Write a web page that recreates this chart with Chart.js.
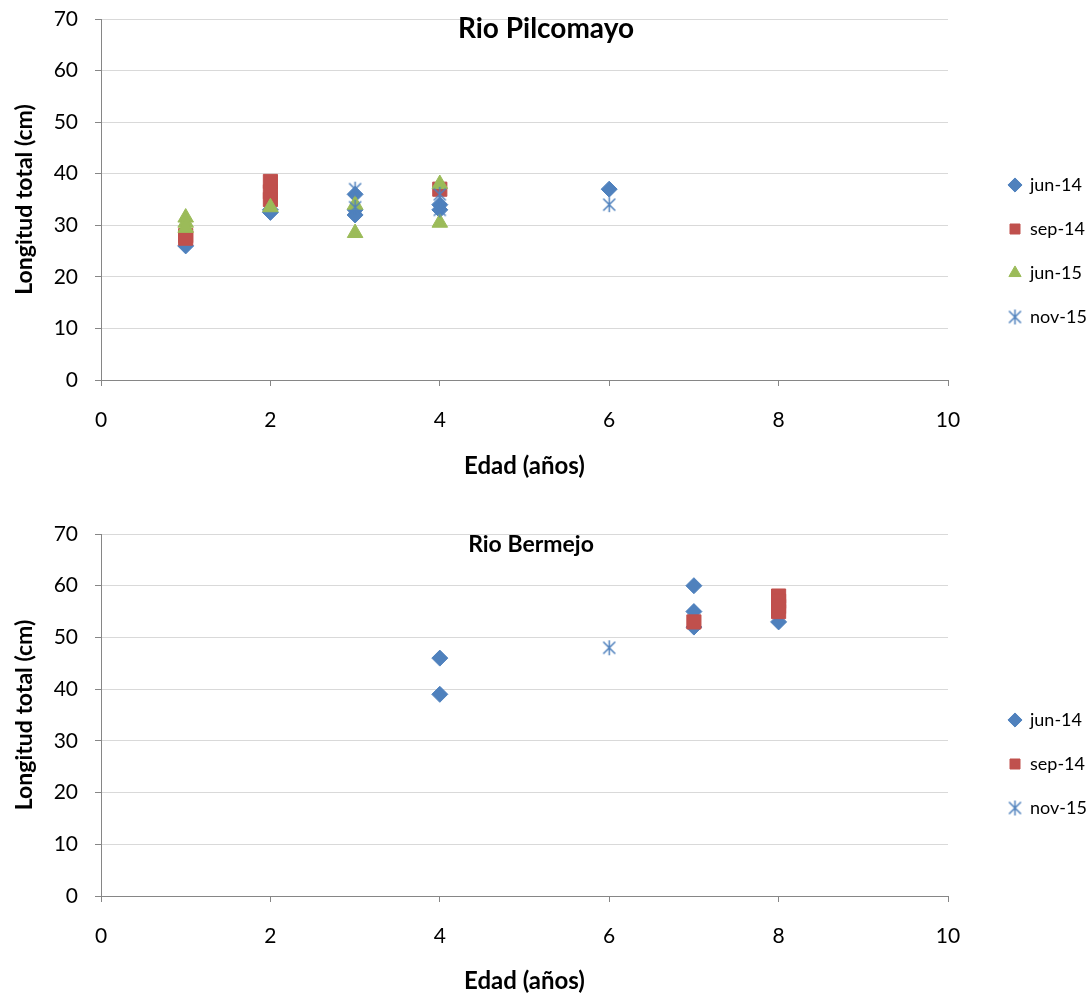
<!DOCTYPE html>
<html lang="es">
<head>
<meta charset="UTF-8">
<title>Longitud total por edad</title>
<script src="https://cdn.jsdelivr.net/npm/chart.js"></script>
<style>
  html, body { margin: 0; padding: 0; background: #fff; }
  .chart-box { position: relative; width: 1092px; height: 498px; }
</style>
</head>
<body>
<div class="chart-box"><canvas id="pilcomayo"></canvas></div>
<div class="chart-box"><canvas id="bermejo"></canvas></div>

<script>
// datos: [edad, longitud]
const seriesNames = ['jun-14', 'sep-14', 'jun-15', 'nov-15'];

const pilJun14 = [[1, 26], [2, 32.5], [2, 33], [3, 36], [3, 33], [3, 32], [4, 34], [4, 33], [6, 37]];
const pilSep14 = [[1, 28], [1, 27.5], [2, 38.5], [2, 36.5], [2, 35], [4, 37]];
const pilJun15 = [[1, 31.5], [1, 30.5], [1, 29.5], [2, 33.5], [3, 34], [3, 28.5], [4, 38], [4, 30.5]];
const pilNov15 = [[3, 37], [3, 33.5], [4, 36], [4, 33], [6, 34]];

const berJun14 = [[4, 46], [4, 39], [7, 60], [7, 55], [7, 52], [8, 53]];
const berSep14 = [[7, 53], [8, 58], [8, 57], [8, 56], [8, 55]];
const berNov15 = [[6, 48]];

const xTicks = [0, 2, 4, 6, 8, 10];
const yTicks = [0, 10, 20, 30, 40, 50, 60, 70];

const AZUL = '#4F81BD', ROJO = '#C0504D', VERDE = '#9BBB59';
const FONT = 'Lato, "DejaVu Sans", sans-serif';

// marcador asterisco de Excel (X con linea vertical)
function asterisco(size) {
    const c = document.createElement('canvas');
    c.width = size; c.height = size;
    const g = c.getContext('2d');
    g.strokeStyle = AZUL;
    g.lineWidth = 1.5;
    const m = size / 2, r = size / 2 - 1;
    g.beginPath();
    g.moveTo(m - r * 0.8, m - r * 0.8); g.lineTo(m + r * 0.8, m + r * 0.8);
    g.moveTo(m + r * 0.8, m - r * 0.8); g.lineTo(m - r * 0.8, m + r * 0.8);
    g.moveTo(m, m - r); g.lineTo(m, m + r);
    g.stroke();
    return c;
}
const estrella = asterisco(17);

function pts(arr) { return arr.map(p => ({ x: p[0], y: p[1] })); }

function serie(label, data, color, style, radius, order) {
    return {
        label: label,
        data: pts(data),
        backgroundColor: color,
        borderColor: color,
        borderWidth: 1,
        pointStyle: style,
        pointRadius: radius,
        pointHoverRadius: radius,
        order: order
    };
}

// titulo dentro del area del grafico, como en Excel
function tituloInterno(texto, x, y, size) {
    return {
        id: 'tituloInterno',
        afterDraw(chart) {
            const ctx = chart.ctx;
            ctx.save();
            ctx.font = 'bold ' + size + 'px ' + FONT;
            ctx.fillStyle = '#000';
            ctx.textAlign = 'center';
            ctx.textBaseline = 'middle';
            ctx.fillText(texto, x, y);
            ctx.restore();
        }
    };
}

// leyenda a la derecha con ancho fijo
function leyendaFija(left, dy) {
    return {
        id: 'leyendaFija',
        afterInit(chart) {
            const lg = chart.legend;
            const fit = lg.fit.bind(lg);
            lg.fit = function () { fit(); this.width = 144; };
        },
        afterLayout(chart) {
            const lg = chart.legend;
            lg.left = left;
            lg.top += dy;
            lg.bottom += dy;
        }
    };
}

function opciones(padTop, xHeight, xTitlePad) {
    return {
        responsive: true,
        maintainAspectRatio: false,
        animation: false,
        layout: { padding: { top: padTop, left: 0, right: 0, bottom: 0 } },
        plugins: {
            legend: {
                position: 'right',
                labels: {
                    usePointStyle: true,
                    boxWidth: 12,
                    boxHeight: 10,
                    padding: 26,
                    color: '#000',
                    font: { family: FONT, size: 18 },
                    sort: (a, b) => a.datasetIndex - b.datasetIndex
                }
            },
            tooltip: { enabled: false }
        },
        scales: {
            x: {
                type: 'linear',
                min: 0, max: 10,
                afterFit(s) { s.height = xHeight; s.paddingLeft = 0; s.paddingRight = 0; },
                afterBuildTicks(s) { s.ticks = xTicks.map(v => ({ value: v })); },
                border: { color: '#868686', width: 1 },
                grid: { drawOnChartArea: false, tickLength: 6, tickColor: '#868686' },
                ticks: { color: '#000', padding: 22, font: { family: FONT, size: 21 } },
                title: {
                    display: true, text: 'Edad (años)', color: '#000',
                    font: { family: FONT, size: 24, weight: 'bold' },
                    padding: { top: 0, bottom: xTitlePad }
                }
            },
            y: {
                min: 0, max: 70,
                afterFit(s) { s.width = 101; s.paddingTop = 0; s.paddingBottom = 0; },
                afterBuildTicks(s) { s.ticks = yTicks.map(v => ({ value: v })); },
                border: { color: '#868686', width: 1 },
                grid: { color: '#d9d9d9', tickLength: 6, tickColor: '#868686' },
                ticks: { color: '#000', padding: 17, font: { family: FONT, size: 21 } },
                title: {
                    display: true, text: 'Longitud total (cm)', color: '#000',
                    font: { family: FONT, size: 23, weight: 'bold' },
                    padding: { top: 11, bottom: 0 }
                }
            }
        }
    };
}

new Chart(document.getElementById('pilcomayo'), {
    type: 'scatter',
    data: {
        datasets: [
            serie(seriesNames[0], pilJun14, AZUL, 'rectRot', 8, 4),
            serie(seriesNames[1], pilSep14, ROJO, 'rect', 10, 3),
            serie(seriesNames[2], pilJun15, VERDE, 'triangle', 9, 2),
            serie(seriesNames[3], pilNov15, AZUL, estrella, 8, 1)
        ]
    },
    options: opciones(19, 118, 17),
    plugins: [tituloInterno('Rio Pilcomayo', 546, 29, 28), leyendaFija(983, -7.5)]
});

new Chart(document.getElementById('bermejo'), {
    type: 'scatter',
    data: {
        datasets: [
            serie(seriesNames[0], berJun14, AZUL, 'rectRot', 8, 4),
            serie(seriesNames[1], berSep14, ROJO, 'rect', 10, 3),
            serie(seriesNames[3], berNov15, AZUL, estrella, 8, 1)
        ]
    },
    options: opciones(36, 100, 0),
    plugins: [tituloInterno('Rio Bermejo', 531, 47, 23), leyendaFija(983, -1)]
});
</script>
</body>
</html>
